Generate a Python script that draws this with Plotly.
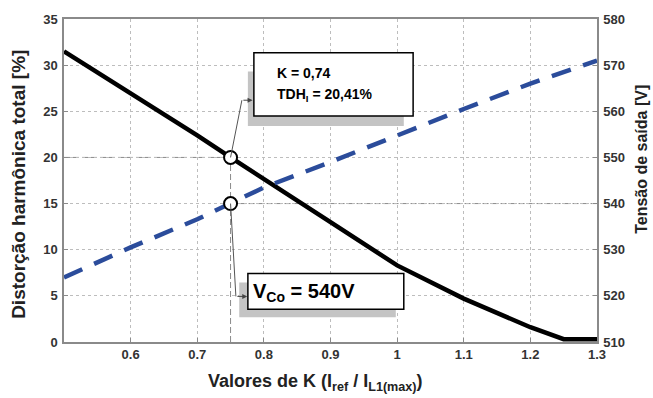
import plotly.graph_objects as go

# data
k_vals = [0.5, 0.6, 0.7, 0.75, 0.8, 0.9, 1.0, 1.1, 1.2, 1.25, 1.3]
thd = [31.5, 27.0, 22.4, 20.0, 17.7, 13.0, 8.3, 4.7, 1.6, 0.3, 0.3]
vout = [524.0, 530.5, 536.6, 540.0, 543.5, 549.0, 554.8, 560.5, 566.0, 568.5, 571.0]

k_op = 0.75
thd_op = 20.0
v_op = 540.0

x_ticks = [0.6, 0.7, 0.8, 0.9, 1.0, 1.1, 1.2, 1.3]
x_ticktext = ["0.6", "0.7", "0.8", "0.9", "1", "1.1", "1.2", "1.3"]
y_ticks = [0, 5, 10, 15, 20, 25, 30, 35]
y2_ticks = [510, 520, 530, 540, 550, 560, 570, 580]

FONT = "Liberation Sans, Arial, sans-serif"
GRAY = "#8a8a8a"
BLUE = "#2B4C9B"

fig = go.Figure()

fig.add_trace(go.Scatter(x=k_vals, y=vout, yaxis="y2", mode="lines",
                         line=dict(color=BLUE, width=4.5, dash="20px,13px"),
                         showlegend=False))
fig.add_trace(go.Scatter(x=k_vals, y=thd, mode="lines",
                         line=dict(color="black", width=4.5), showlegend=False))

# reference dashed lines
fig.add_shape(type="line", x0=k_vals[0], x1=k_op, y0=thd_op, y1=thd_op, xref="x", yref="y",
              line=dict(color=GRAY, width=1, dash="6px,3px"), layer="below")
fig.add_shape(type="line", x0=k_op, x1=k_op, y0=0, y1=thd_op, xref="x", yref="y",
              line=dict(color=GRAY, width=1, dash="6px,3px"), layer="below")
fig.add_shape(type="line", x0=k_op, x1=k_vals[-1], y0=v_op, y1=v_op, xref="x", yref="y2",
              line=dict(color=GRAY, width=1, dash="6px,3px"), layer="below")

# callout boxes (shadow + white box)
fig.add_shape(type="rect", x0=0.776, x1=1.010, y0=23.4, y1=29.3, xref="x", yref="y",
              fillcolor="#c4c4c4", line=dict(width=0), layer="above")
fig.add_shape(type="rect", x0=0.785, x1=1.024, y0=24.5, y1=31.35, xref="x", yref="y",
              fillcolor="white", line=dict(color="black", width=1.5), layer="above")
fig.add_shape(type="rect", x0=0.763, x1=0.998, y0=2.68, y1=6.44, xref="x", yref="y",
              fillcolor="#c4c4c4", line=dict(width=0), layer="above")
fig.add_shape(type="rect", x0=0.776, x1=1.010, y0=3.54, y1=7.41, xref="x", yref="y",
              fillcolor="white", line=dict(color="black", width=1.5), layer="above")

# leader lines
fig.add_shape(type="line", x0=k_op, y0=thd_op, x1=0.767, y1=26.2, xref="x", yref="y",
              line=dict(color="#555", width=1), layer="above")
fig.add_shape(type="line", x0=k_op, y0=15.0, x1=0.758, y1=4.94, xref="x", yref="y",
              line=dict(color="#555", width=1), layer="above")

# markers
fig.add_trace(go.Scatter(x=[k_op], y=[thd_op], mode="markers",
                         marker=dict(size=13, color="white", line=dict(color="black", width=2)),
                         showlegend=False))
fig.add_trace(go.Scatter(x=[k_op], y=[v_op], yaxis="y2", mode="markers",
                         marker=dict(size=13, color="white", line=dict(color="black", width=2)),
                         showlegend=False))

annotations = [
    dict(x=0.783, y=26.2, ax=0.767, ay=26.2, xref="x", yref="y", axref="x", ayref="y",
         text="", showarrow=True, arrowhead=2, arrowsize=1, arrowwidth=1, arrowcolor="#444"),
    dict(x=0.775, y=4.94, ax=0.758, ay=4.94, xref="x", yref="y", axref="x", ayref="y",
         text="", showarrow=True, arrowhead=2, arrowsize=1, arrowwidth=1, arrowcolor="#444"),
    dict(x=0.816, y=29.2, xref="x", yref="y", xanchor="left", yanchor="middle",
         text="K = 0,74", showarrow=False,
         font=dict(family=FONT, size=14, color="black", weight="bold")),
    dict(x=0.816, y=26.8, xref="x", yref="y", xanchor="left", yanchor="middle",
         text="TDH<sub>I</sub> = 20,41%", showarrow=False,
         font=dict(family=FONT, size=14, color="black", weight="bold")),
    dict(x=0.781, y=5.4, xref="x", yref="y", xanchor="left", yanchor="middle",
         text="V<sub>Co</sub> = 540V", showarrow=False,
         font=dict(family=FONT, size=20, color="black", weight="bold")),
    dict(x=-0.0854, y=0.488, xref="paper", yref="paper", textangle=-90,
         xanchor="center", yanchor="middle",
         text="Distorção harmônica total [%]", showarrow=False,
         font=dict(family=FONT, size=19, color="#222", weight="bold")),
    dict(x=1.0844, y=0.567, xref="paper", yref="paper", textangle=-90,
         xanchor="center", yanchor="middle",
         text="Tensão de saída [V]", showarrow=False,
         font=dict(family=FONT, size=16, color="#222", weight="bold")),
    dict(x=0.471, y=-0.126, xref="paper", yref="paper",
         xanchor="center", yanchor="middle",
         text="Valores de K (I<sub>ref</sub> / I<sub>L1(max)</sub>)", showarrow=False,
         font=dict(family=FONT, size=18, color="#222", weight="bold")),
]

tickfont = dict(family=FONT, size=13, color="#333", weight="bold")

fig.update_layout(
    width=653, height=398,
    margin=dict(l=64, r=56, t=16, b=56),
    paper_bgcolor="white", plot_bgcolor="white",
    annotations=annotations,
    xaxis=dict(range=[0.5, 1.3], tickvals=x_ticks, ticktext=x_ticktext,
               showgrid=True, gridcolor="#bdbdbd", griddash="dot", gridwidth=1,
               showline=True, linecolor=GRAY, linewidth=1.5, mirror=True,
               ticks="inside", ticklen=4, tickcolor=GRAY,
               tickfont=tickfont, zeroline=False),
    yaxis=dict(range=[0, 35], tickvals=y_ticks,
               showgrid=True, gridcolor="#bdbdbd", griddash="dot", gridwidth=1,
               showline=True, linecolor=GRAY, linewidth=1.5,
               ticks="inside", ticklen=4, tickcolor=GRAY, ticklabelstandoff=2,
               tickfont=tickfont, zeroline=False),
    yaxis2=dict(range=[510, 580], tickvals=y2_ticks, overlaying="y", side="right",
                showgrid=False, showline=True, linecolor=GRAY, linewidth=1.5,
                ticks="inside", ticklen=4, tickcolor=GRAY, ticklabelstandoff=2,
                tickfont=tickfont, zeroline=False),
)

fig.write_html("out.html")
